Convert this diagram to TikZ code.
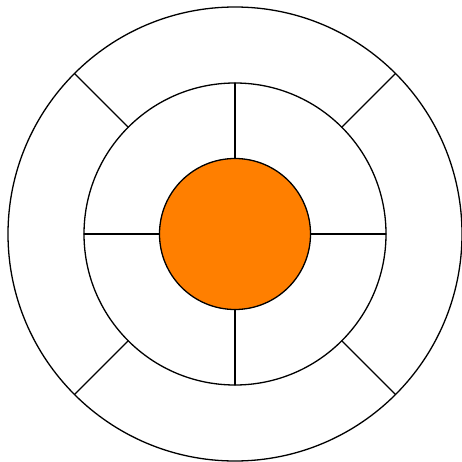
\documentclass[tikz,border=0pt]{standalone}
\usepackage{tikz}
\definecolor{coreorange}{RGB}{255,127,0}

\begin{document}
\begin{tikzpicture}[x=1pt,y=1pt,line width=1.3pt,line cap=round,
ring/.style={circle,draw=black,inner sep=0pt,outer sep=0pt},
spoke/.style={draw=black}]
\useasboundingbox (0,0) rectangle (462,461);
\node[ring,minimum size=454pt] (outer) at (235,227) {};
\node[ring,minimum size=302pt] (mid) at (235,227) {};
\node[ring,fill=coreorange,minimum size=151pt] (core) at (235,227) {};
\foreach \a in {0,90,180,270}{\draw[spoke] (core.\a)--(mid.\a);}
\foreach \a in {45,135,225,315}{\draw[spoke] (mid.\a)--(outer.\a);}
\end{tikzpicture}
\end{document}
